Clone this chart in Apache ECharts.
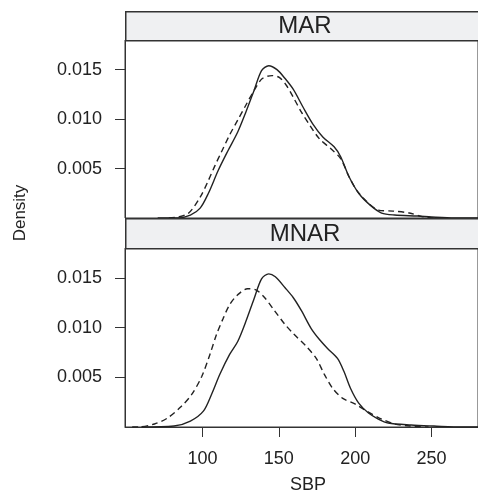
<!DOCTYPE html>
<html>
<head>
<meta charset="utf-8">
<script src="https://cdn.jsdelivr.net/npm/echarts@6/dist/echarts.min.js"></script>
<style>
html,body{margin:0;padding:0;background:#fff;}
#chart{width:478px;height:492px;}
</style>
</head>
<body>
<div id="chart"></div>
<script>
// Panel titles
const panels = ["MAR", "MNAR"];
// Axis ticks
const xTicks = [100, 150, 200, 250];
const yTicks = [0.005, 0.010, 0.015];

// MAR: solid (observed) curve
const marSolidX = [70.7, 83.5, 92.1, 98.5, 103.9, 110.3, 116.7, 123.1, 128.4, 133.8, 138.7, 143.4, 148.8, 154.1, 159.5, 165.9, 172.3, 178.8, 186.2, 190.5, 195.9, 202.3, 209.8, 217.3, 225.8, 240.8, 250, 265, 285];
const marSolidY = [0, 0, 0.0003, 0.0010, 0.0025, 0.0048, 0.0068, 0.0087, 0.0107, 0.0129, 0.0149, 0.0154, 0.0150, 0.0141, 0.0130, 0.0112, 0.0095, 0.0082, 0.0072, 0.0062, 0.0042, 0.0025, 0.0013, 0.0005, 0.0003, 0.0002, 0.0001, 0, 0];
// MAR: dashed (imputed) curve
const marDashX = [78, 84, 91.0, 98.5, 103.9, 108.2, 112.5, 117.8, 123.1, 128.4, 133.8, 139.2, 145.6, 150.5, 155, 159.5, 164.8, 170.2, 176.6, 184.1, 190.5, 195.9, 201, 206.7, 215.2, 224.8, 235.5, 245.1, 252];
const marDashY = [0, 0.0001, 0.0005, 0.0021, 0.0038, 0.0053, 0.0067, 0.0084, 0.0099, 0.0114, 0.0129, 0.0141, 0.0144, 0.0142, 0.0134, 0.0122, 0.0107, 0.0094, 0.0080, 0.0070, 0.0060, 0.0042, 0.0028, 0.0018, 0.0008, 0.0007, 0.0005, 0.0001, 0];
// MNAR: solid (observed) curve
const mnarSolidX = [60, 81.4, 92.1, 100.6, 106.0, 111.4, 117.8, 123.1, 128.4, 133.8, 138.7, 143.4, 147.7, 154.1, 159.5, 164.8, 171.2, 176.6, 181.9, 188.4, 192.6, 196.9, 202.3, 208.7, 215.1, 221.6, 236.6, 251.5, 270, 285];
const mnarSolidY = [0, 0.0001, 0.0006, 0.0016, 0.0033, 0.0053, 0.0073, 0.0086, 0.0106, 0.0129, 0.0149, 0.0154, 0.0151, 0.0140, 0.0130, 0.0117, 0.0099, 0.0088, 0.0079, 0.0069, 0.0056, 0.0039, 0.0024, 0.0014, 0.0008, 0.0004, 0.0002, 0.0001, 0, 0];
// MNAR: dashed (imputed) curve
const mnarDashX = [54, 57.8, 68.6, 77.1, 85.7, 93.1, 99.6, 104.9, 109.2, 113.5, 117.8, 123.1, 129.5, 134.9, 140.2, 146.7, 154.1, 159.5, 168.0, 174.5, 179.8, 185.2, 191.6, 200.1, 208.7, 217.3, 225.8, 236, 248];
const mnarDashY = [0, 0, 0.0003, 0.0009, 0.0020, 0.0033, 0.0051, 0.0073, 0.0093, 0.0109, 0.0123, 0.0133, 0.0139, 0.0138, 0.0131, 0.0118, 0.0103, 0.0094, 0.0081, 0.0069, 0.0053, 0.0039, 0.0029, 0.0023, 0.0015, 0.0008, 0.0003, 0.0001, 0];

const xMin = 49.3, xMax = 280.4, yMin = 0, yMax = 0.018;
const zip = (xs, ys) => xs.map((x, i) => [x, ys[i]]);

const FONT = "Liberation Sans, Arial, Helvetica, sans-serif";
const INK = "#222";

const chart = echarts.init(document.getElementById("chart"), null, {renderer: "canvas"});

const gridTops = [40, 248];
const gridHeights = [178, 179];
const grids = gridTops.map((t, i) => ({
  left: 125, top: t, width: 360, height: gridHeights[i],
  show: true, borderColor: "#333", borderWidth: 1, backgroundColor: "transparent"
}));

const xAxes = [0, 1].map(i => ({
  type: "value", gridIndex: i, min: xMin, max: xMax,
  splitLine: {show: false},
  axisLine: {show: i === 1, onZero: false, lineStyle: {color: "#333", width: 1}},
  axisTick: {show: i === 1, customValues: xTicks, length: 10, inside: false, lineStyle: {color: "#333", width: 1}},
  axisLabel: {show: i === 1, customValues: xTicks, margin: 23, color: INK, fontSize: 18, fontFamily: FONT}
}));

const yAxes = [0, 1].map(i => ({
  type: "value", gridIndex: i, min: yMin, max: yMax,
  splitLine: {show: false},
  axisLine: {show: true, onZero: false, lineStyle: {color: "#333", width: 1}},
  axisTick: {show: true, customValues: yTicks, length: 10, lineStyle: {color: "#333", width: 1}},
  axisLabel: {show: true, customValues: yTicks, margin: 23, color: INK, fontSize: 18, fontFamily: FONT,
    formatter: v => v.toFixed(3)}
}));

function line(data, gi, dashed) {
  return {
    type: "line", xAxisIndex: gi, yAxisIndex: gi, data: data,
    showSymbol: false, symbol: "none", smooth: 0.3, clip: true,
    lineStyle: {color: INK, width: 1.4, type: dashed ? [6, 4] : "solid"},
    silent: true, animation: false
  };
}

const strips = [
  {y: 11, h: 29, label: panels[0]},
  {y: 218, h: 30, label: panels[1]}
];
const graphics = [];
strips.forEach(s => {
  graphics.push({
    type: "rect", left: 125, top: s.y, z: 100,
    shape: {x: 0, y: 0, width: 360, height: s.h},
    style: {fill: "#eff0f2", stroke: "#333", lineWidth: 1.5}
  });
  graphics.push({
    type: "text", x: 305, y: s.y + s.h / 2 + 1, z: 101,
    style: {text: s.label, fill: INK, font: "24px " + FONT, textAlign: "center", textVerticalAlign: "middle"}
  });
});
graphics.push({
  type: "text", x: 20, y: 213, rotation: Math.PI / 2, z: 101,
  style: {text: "Density", fill: INK, font: "17px " + FONT, textAlign: "center", textVerticalAlign: "middle"}
});
graphics.push({
  type: "text", x: 308, y: 485, z: 101,
  style: {text: "SBP", fill: INK, font: "18px " + FONT, textAlign: "center", textVerticalAlign: "middle"}
});

chart.setOption({
  animation: false,
  backgroundColor: "#fff",
  grid: grids,
  xAxis: xAxes,
  yAxis: yAxes,
  series: [
    line(zip(marSolidX, marSolidY), 0, false),
    line(zip(marDashX, marDashY), 0, true),
    line(zip(mnarSolidX, mnarSolidY), 1, false),
    line(zip(mnarDashX, mnarDashY), 1, true)
  ],
  graphic: graphics
});
</script>
</body>
</html>
